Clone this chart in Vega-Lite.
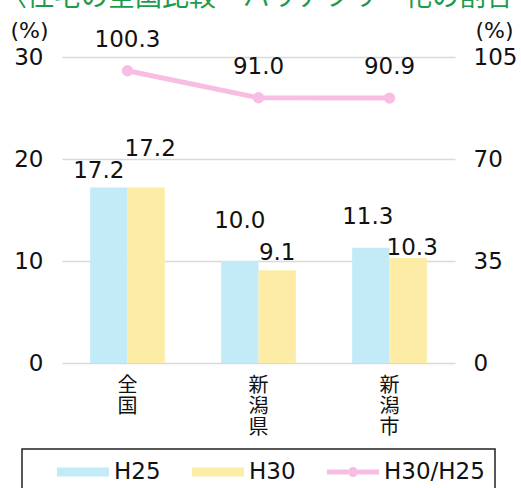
{
  "$schema": "https://vega.github.io/schema/vega-lite/v6.json",
  "width": 393,
  "height": 306,
  "autosize": {"type": "none"},
  "padding": {"left": 62, "top": 57, "right": 66, "bottom": 125},
  "background": "white",
  "title": {
    "text": "〈住宅の全国比較・バリアフリー化の割合",
    "anchor": "start",
    "frame": "group",
    "dx": -62,
    "offset": 0,
    "dy": 20,
    "baseline": "bottom",
    "font": "Noto Sans CJK JP",
    "fontSize": 27,
    "fontWeight": "normal",
    "color": "#1e9a4c"
  },
  "config": {
    "view": {"stroke": null},
    "axis": {"labelFont": "DejaVu Sans", "labelFontSize": 23, "labelColor": "#111", "titleFont": "DejaVu Sans", "titleFontSize": 22, "titleFontWeight": "normal", "titleColor": "#111"},
    "text": {"font": "DejaVu Sans", "fontSize": 23, "color": "#111"}
  },
  "datasets": {
    "bars": [
      {"cat": "全国", "series": "H25", "value": 17.2},
      {"cat": "全国", "series": "H30", "value": 17.2},
      {"cat": "新潟県", "series": "H25", "value": 10.0},
      {"cat": "新潟県", "series": "H30", "value": 9.1},
      {"cat": "新潟市", "series": "H25", "value": 11.3},
      {"cat": "新潟市", "series": "H30", "value": 10.3}
    ],
    "line": [
      {"cat": "全国", "ratio": 100.3},
      {"cat": "新潟県", "ratio": 91.0},
      {"cat": "新潟市", "ratio": 90.9}
    ]
  },
  "encoding": {
    "x": {
      "field": "cat",
      "type": "nominal",
      "sort": ["全国", "新潟県", "新潟市"],
      "scale": {"paddingInner": 0.43, "paddingOuter": 0.215},
      "axis": {
        "title": null,
        "labelAngle": 0,
        "labelExpr": "split(datum.label, '')",
        "labelFont": "Noto Sans CJK JP",
        "labelFontSize": 20,
        "labelLineHeight": 21,
        "labelBaseline": "top",
        "labelPadding": 12,
        "domain": false,
        "ticks": false
      }
    }
  },
  "layer": [
    {
      "data": {"name": "bars"},
      "layer": [
        {
          "mark": {"type": "bar"},
          "encoding": {
            "xOffset": {"field": "series", "type": "nominal"},
            "y": {
              "field": "value",
              "type": "quantitative",
              "scale": {"domain": [0, 30], "nice": false},
              "axis": {
                "values": [0, 10, 20, 30],
                "grid": true,
                "gridColor": "#d9d9d9",
                "gridWidth": 1.5,
                "domain": false,
                "ticks": false,
                "labelPadding": 19,
                "title": "(%)",
                "titleAngle": 0,
                "titleAlign": "center",
                "titleBaseline": "middle",
                "titleX": -33,
                "titleY": -27
              }
            },
            "color": {
              "field": "series",
              "type": "nominal",
              "scale": {"domain": ["H25", "H30", "H30/H25"], "range": ["#c2ebf7", "#fdeca6", "#f8bde2"]},
              "legend": {
                "title": null,
                "orient": "none",
                "direction": "horizontal",
                "legendX": -40,
                "legendY": 392,
                "padding": 10,
                "strokeColor": "#222",
                "symbolSize": 676,
                "symbolStrokeWidth": 0,
                "labelOffset": 56,
                "columnPadding": 6,
                "labelFont": "DejaVu Sans",
                "labelFontSize": 23,
                "labelColor": "#111",
                "labelExpr": "datum.label === 'H30/H25' ? 'H30/H25     ' : datum.label",
                "encode": {
                  "legend": {"update": {"strokeWidth": {"value": 1.5}}},
                  "symbols": {
                    "update": {
                      "shape": {"signal": "datum.value === 'H30/H25' ? 'M0.923,-0.19H2.54V0.19H0.923Z M3.31,-0.19H4.923V0.19H3.31Z M2.54,0 A0.385,0.385 0 1,1 3.31,0 A0.385,0.385 0 1,1 2.54,0 Z' : 'M0.923,-0.346H4.923V0.346H0.923Z'"},
                      "fill": {"scale": "color", "field": "value"},
                      "stroke": {"value": "transparent"},
                      "strokeWidth": {"value": 0},
                      "opacity": {"value": 1}
                    }
                  }
                }
              }
            }
          }
        },
        {
          "transform": [{"filter": "datum.cat === '全国' && datum.series === 'H25'"}],
          "mark": {"type": "text", "baseline": "alphabetic", "dy": -10, "dx": -10},
          "encoding": {"xOffset": {"field": "series", "type": "nominal", "scale": {"domain": ["H25", "H30"]}}, "y": {"field": "value", "type": "quantitative"}, "text": {"field": "value", "type": "quantitative", "format": ".1f"}}
        },
        {
          "transform": [{"filter": "datum.cat === '全国' && datum.series === 'H30'"}],
          "mark": {"type": "text", "baseline": "alphabetic", "dy": -32, "dx": 4},
          "encoding": {"xOffset": {"field": "series", "type": "nominal", "scale": {"domain": ["H25", "H30"]}}, "y": {"field": "value", "type": "quantitative"}, "text": {"field": "value", "type": "quantitative", "format": ".1f"}}
        },
        {
          "transform": [{"filter": "datum.cat === '新潟県' && datum.series === 'H25'"}],
          "mark": {"type": "text", "baseline": "alphabetic", "dy": -33},
          "encoding": {"xOffset": {"field": "series", "type": "nominal", "scale": {"domain": ["H25", "H30"]}}, "y": {"field": "value", "type": "quantitative"}, "text": {"field": "value", "type": "quantitative", "format": ".1f"}}
        },
        {
          "transform": [{"filter": "datum.cat === '新潟県' && datum.series === 'H30'"}],
          "mark": {"type": "text", "baseline": "alphabetic", "dy": -10},
          "encoding": {"xOffset": {"field": "series", "type": "nominal", "scale": {"domain": ["H25", "H30"]}}, "y": {"field": "value", "type": "quantitative"}, "text": {"field": "value", "type": "quantitative", "format": ".1f"}}
        },
        {
          "transform": [{"filter": "datum.cat === '新潟市' && datum.series === 'H25'"}],
          "mark": {"type": "text", "baseline": "alphabetic", "dy": -24, "dx": -3},
          "encoding": {"xOffset": {"field": "series", "type": "nominal", "scale": {"domain": ["H25", "H30"]}}, "y": {"field": "value", "type": "quantitative"}, "text": {"field": "value", "type": "quantitative", "format": ".1f"}}
        },
        {
          "transform": [{"filter": "datum.cat === '新潟市' && datum.series === 'H30'"}],
          "mark": {"type": "text", "baseline": "alphabetic", "dy": -3, "dx": 4},
          "encoding": {"xOffset": {"field": "series", "type": "nominal", "scale": {"domain": ["H25", "H30"]}}, "y": {"field": "value", "type": "quantitative"}, "text": {"field": "value", "type": "quantitative", "format": ".1f"}}
        }
      ]
    },
    {
      "data": {"name": "line"},
      "layer": [
        {
          "mark": {"type": "line", "color": "#f8bde2", "strokeWidth": 5},
          "encoding": {
            "y": {
              "field": "ratio",
              "type": "quantitative",
              "scale": {"domain": [0, 105], "nice": false},
              "axis": {
                "orient": "right",
                "values": [0, 35, 70, 105],
                "grid": false,
                "domain": false,
                "ticks": false,
                "labelPadding": 18,
                "title": "(%)",
                "titleAngle": 0,
                "titleAlign": "center",
                "titleBaseline": "middle",
                "titleX": 39,
                "titleY": -27
              }
            }
          }
        },
        {
          "mark": {"type": "point", "shape": "circle", "filled": true, "color": "#f8bde2", "opacity": 1, "size": 130},
          "encoding": {"y": {"field": "ratio", "type": "quantitative"}}
        },
        {
          "mark": {"type": "text", "baseline": "alphabetic", "dy": -24},
          "encoding": {"y": {"field": "ratio", "type": "quantitative"}, "text": {"field": "ratio", "type": "quantitative", "format": ".1f"}}
        }
      ]
    }
  ],
  "resolve": {"scale": {"y": "independent"}}
}
